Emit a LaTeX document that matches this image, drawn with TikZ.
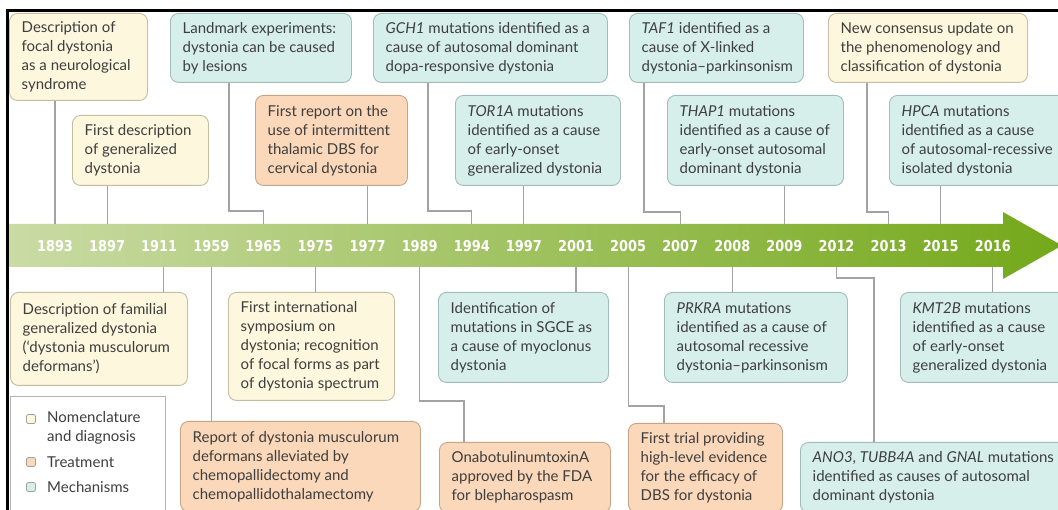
\documentclass[tikz,border=0pt]{standalone}
\usepackage{fontspec}
\setmainfont{Lato}
\newfontfamily\yearfont{DejaVu Sans}[FakeStretch=0.86]

\definecolor{nomfill}{HTML}{FDF7DE}
\definecolor{nomline}{HTML}{C4BEA0}
\definecolor{trtfill}{HTML}{FBD8BA}
\definecolor{trtline}{HTML}{C7A488}
\definecolor{mecfill}{HTML}{D6EFEB}
\definecolor{mecline}{HTML}{A2BDB9}
\definecolor{txt}{HTML}{3E3E3E}
\definecolor{conn}{HTML}{A3A3A3}
\definecolor{barL}{HTML}{CADBA4}
\definecolor{barR}{HTML}{74A81A}

\tikzset{
  evt/.style={draw, rounded corners=8pt, line width=0.9pt, anchor=north west, inner sep=0pt},
  nom/.style={evt, fill=nomfill, draw=nomline},
  trt/.style={evt, fill=trtfill, draw=trtline},
  mec/.style={evt, fill=mecfill, draw=mecline},
  evtxt/.style={anchor=west, align=left, inner sep=0pt, text=txt,
    font=\fontsize{15}{19}\selectfont},
  link/.style={draw=conn, line width=1.1pt},
  yr/.style={text=white, inner sep=0pt, font=\yearfont\bfseries\fontsize{15}{15}\selectfont},
  legsq/.style={draw=gray!75, line width=0.8pt, rounded corners=2pt, minimum size=9pt, inner sep=0pt},
  legtxt/.style={anchor=west, align=left, inner sep=0pt, text=txt, font=\fontsize{15}{19}\selectfont},
}

% event box: name, style, left, top, width, height, text
\newcommand\evbox[7]{%
  \node[#2, minimum width=#5pt, minimum height=#6pt] (#1) at (#3,#4) {};
  \node[evtxt] (#1t) at ([xshift=12.5pt]#1.west) {#7};}

\begin{document}
\begin{tikzpicture}[x=1pt,y=-1pt]
\useasboundingbox (0,0) rectangle (1058,510);
\fill[white] (0,0) rectangle (1058,510);
\clip (0,0) rectangle (1058,510);

% timeline arrow
\shade[left color=barL, right color=barR]
  (9,224) -- (1003,224) -- (1003,212) -- (1062,245.5) -- (1003,279) -- (1003,267) -- (9,267) -- cycle;
\coordinate (bartop) at (0,224);
\coordinate (barbot) at (0,267);

% years
\foreach \yr [count=\i from 0] in {1893,1897,1911,1959,1965,1975,1977,1989,1994,1997,2001,2005,2007,2008,2009,2012,2013,2015,2016}
  \node[yr] (y\yr) at ({55+52.1*\i},246) {\yr};

% events above the timeline
\evbox{A1}{nom}{9}{13}{138}{87}{Description of\\focal dystonia\\as a neurological\\syndrome}
\evbox{A2}{mec}{170}{13}{181}{69}{Landmark experiments:\\dystonia can be caused\\by lesions}
\evbox{A3}{mec}{373}{13}{234}{69}{\textit{GCH1} mutations identified as a\\cause of autosomal dominant\\dopa-responsive dystonia}
\evbox{A4}{mec}{629}{13}{174}{69}{\textit{TAF1} identified as a\\cause of X-linked\\dystonia--parkinsonism}
\evbox{A5}{nom}{828}{13}{199}{69}{New consensus update on\\the phenomenology and\\classification of dystonia}

\evbox{B1}{nom}{72}{115}{136}{70}{First description\\of generalized\\dystonia}
\evbox{B2}{trt}{255}{95}{152}{90}{First report on the\\use of intermittent\\thalamic DBS for\\cervical dystonia}
\evbox{B3}{mec}{455}{95}{165}{90}{\textit{TOR1A} mutations\\identified as a cause\\of early-onset\\generalized dystonia}
\evbox{B4}{mec}{667}{95}{176}{90}{\textit{THAP1} mutations\\identified as a cause of\\early-onset autosomal\\dominant dystonia}
\evbox{B5}{mec}{889}{95}{180}{90}{\textit{HPCA} mutations\\identified as a cause\\of autosomal-recessive\\isolated dystonia}

% events below the timeline
\evbox{C1}{nom}{10}{292}{177}{93}{Description of familial\\generalized dystonia\\(‘dystonia musculorum\\deformans’)}
\evbox{C2}{nom}{228}{292}{166}{108}{First international\\symposium on\\dystonia; recognition\\of focal forms as part\\of dystonia spectrum}
\evbox{C3}{mec}{438}{292}{170}{90}{Identification of\\mutations in SGCE as\\a cause of myoclonus\\dystonia}
\evbox{C4}{mec}{664}{292}{183}{90}{\textit{PRKRA} mutations\\identified as a cause of\\autosomal recessive\\dystonia--parkinsonism}
\evbox{C5}{mec}{900}{292}{170}{90}{\textit{KMT2B} mutations\\identified as a cause\\of early-onset\\generalized dystonia}

\evbox{D1}{trt}{180}{421}{240}{90}{Report of dystonia musculorum\\deformans alleviated by\\chemopallidectomy and\\chemopallidothalamectomy}
\evbox{D2}{trt}{439}{442}{171}{70}{OnabotulinumtoxinA\\approved by the FDA\\for blepharospasm}
\evbox{D3}{trt}{628}{423}{154}{89}{First trial providing\\high-level evidence\\for the efficacy of\\DBS for dystonia}
\evbox{D4}{mec}{800}{442}{290}{70}{\textit{ANO3}, \textit{TUBB4A} and \textit{GNAL} mutations\\identified as causes of autosomal\\dominant dystonia}

% connector bends
\coordinate (j1965) at (229,211);
\coordinate (j1994) at (428,211);
\coordinate (j2007) at (644,212);
\coordinate (j2013) at (867,212);
\coordinate (k1989) at (464,401);
\coordinate (k2005) at (664,406);
\coordinate (k2012) at (874,278);
\coordinate (c1911) at ([xshift=4pt]y1911);

% connectors above
\draw[link] (A1.south -| y1893) -- (bartop -| y1893);
\draw[link] (B1.south -| y1897) -- (bartop -| y1897);
\draw[link] (A2.south -| j1965) -- (j1965) -| (bartop -| y1965);
\draw[link] (B2.south -| y1977) -- (bartop -| y1977);
\draw[link] (A3.south -| j1994) -- (j1994) -| (bartop -| y1994);
\draw[link] (B3.south -| y1997) -- (bartop -| y1997);
\draw[link] (A4.south -| j2007) -- (j2007) -| (bartop -| y2007);
\draw[link] (B4.south -| y2009) -- (bartop -| y2009);
\draw[link] (A5.south -| j2013) -- (j2013) -| (bartop -| y2013);
\draw[link] (B5.south -| y2015) -- (bartop -| y2015);

% connectors below
\draw[link] (barbot -| c1911) -- (C1.north -| c1911);
\draw[link] (barbot -| y1959) -- (D1.north -| y1959);
\draw[link] (barbot -| y1975) -- (C2.north -| y1975);
\draw[link] (barbot -| y1989) |- (k1989) -- (D2.north -| k1989);
\draw[link] (barbot -| y2001) -- (C3.north -| y2001);
\draw[link] (barbot -| y2005) |- (k2005) -- (D3.north -| k2005);
\draw[link] (barbot -| y2008) -- (C4.north -| y2008);
\draw[link] (barbot -| y2012) |- (k2012) -- (D4.north -| k2012);
\draw[link] (barbot -| y2016) -- (C5.north -| y2016);

% legend
\node[draw=gray!60, fill=white, line width=0.9pt, anchor=north west, minimum width=155pt,
  minimum height=130pt, inner sep=0pt] (legend) at (10,396) {};
\node[legsq, fill=nomfill] (sqN) at (31,419) {};
\node[legsq, fill=trtfill] (sqT) at (31,462) {};
\node[legsq, fill=mecfill] (sqM) at (31,487) {};
\node[legtxt] (lN) at (47,428) {Nomenclature\\and diagnosis};
\node[legtxt] (lT) at (47,462) {Treatment};
\node[legtxt] (lM) at (47,487) {Mechanisms};

% frame
\draw[line width=2.6pt, black] (7.5,512) -- (7.5,10.7) -- (1060,10.7);
\end{tikzpicture}
\end{document}
